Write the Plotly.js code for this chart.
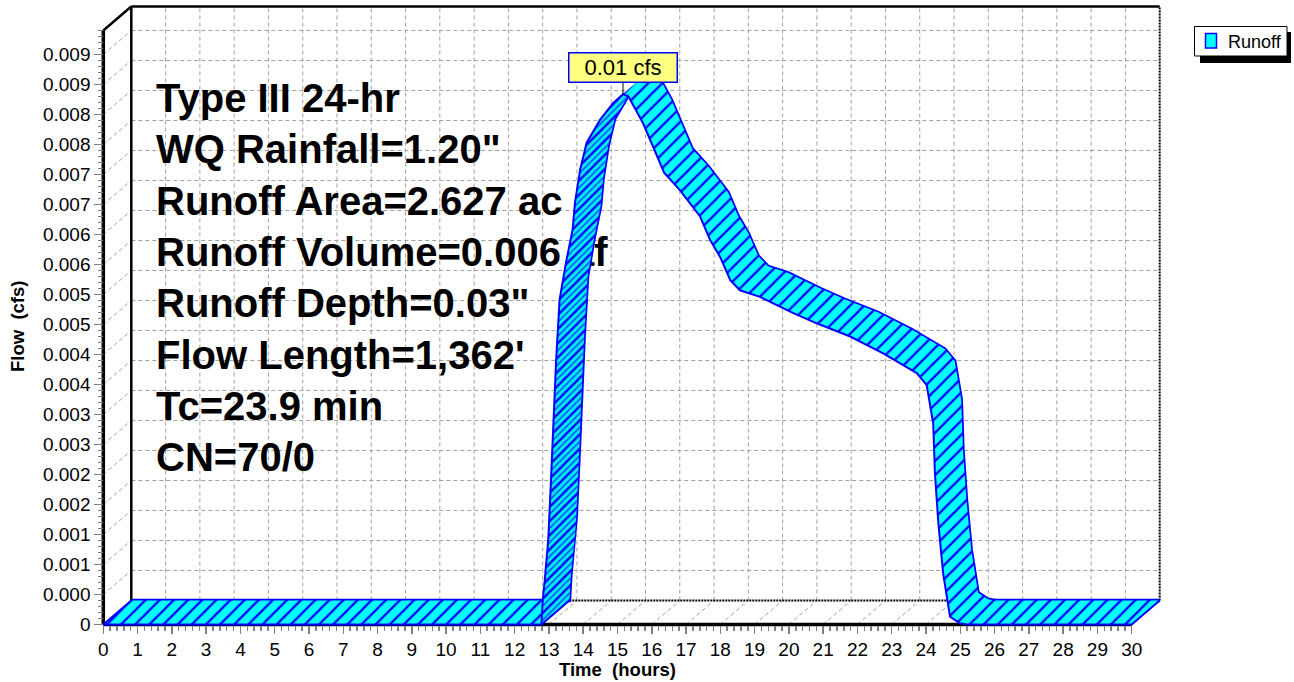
<!DOCTYPE html>
<html><head><meta charset="utf-8">
<script src="https://cdn.plot.ly/plotly-3.0.1.min.js"></script>
<style>html,body{margin:0;padding:0;background:#fff;} #chart{width:1294px;height:682px;}</style>
</head><body><div id="chart"></div>
<script>
// ---------------- data ----------------
const timeHours = [0, 12.78, 12.82, 12.87, 12.94, 12.98, 13.06, 13.13, 13.21, 13.31, 13.50, 13.69, 13.76, 13.91, 14.10, 14.49, 14.87, 15.16, 15.32, 15.75, 16.36, 16.82, 17.41, 17.70, 17.99, 18.29, 18.57, 19.16, 20.13, 20.81, 21.79, 22.75, 23.73, 24.02, 24.21, 24.26, 24.36, 24.50, 24.70, 24.99, 25.20, 30];
const runoffCfs = [0, 0, 0.00041, 0.00069, 0.00108, 0.00141, 0.00241, 0.00341, 0.00441, 0.00541, 0.00604, 0.00658, 0.00703, 0.00758, 0.00803, 0.00841, 0.00869, 0.00884, 0.00880, 0.00835, 0.00753, 0.00724, 0.00680, 0.00641, 0.00613, 0.00574, 0.00557, 0.00546, 0.00519, 0.00502, 0.00480, 0.00452, 0.00419, 0.00399, 0.00335, 0.00252, 0.00169, 0.00085, 0.00013, 0.00002, 0, 0];
const xTickVals = [0,1,2,3,4,5,6,7,8,9,10,11,12,13,14,15,16,17,18,19,20,21,22,23,24,25,26,27,28,29,30];
const yTickVals = [0,0.0005,0.001,0.0015,0.002,0.0025,0.003,0.0035,0.004,0.0045,0.005,0.0055,0.006,0.0065,0.007,0.0075,0.008,0.0085,0.009,0.0095];
const yTickText = ["0","0.000","0.001","0.001","0.002","0.002","0.003","0.003","0.004","0.004","0.005","0.005","0.006","0.006","0.007","0.007","0.008","0.008","0.009","0.009"];
const infoLines = ['Type III 24-hr','WQ Rainfall=1.20"','Runoff Area=2.627 ac','Runoff Volume=0.006 af','Runoff Depth=0.03"',"Flow Length=1,362'",'Tc=23.9 min','CN=70/0'];
const seriesName = 'Runoff';
const xTitle = 'Time\u00a0\u00a0(hours)';
const yTitle = 'Flow\u00a0\u00a0(cfs)';

// ---------------- geometry / style ----------------
const W = 1294, H = 682;
const PL = 95, PR = 1175, PT = 0, PB = 632;          // plot area in px
const X0PX = 103.3, PXHR = 34.28, Y0PX = 624.5, PXCFS = 60000;
const DEPTH_X = 28, DEPTH_Y = 24;                    // 3-D depth offset in px
const xRange = [(PL - X0PX) / PXHR, (PR - X0PX) / PXHR];
const yRange = [(Y0PX - PB) / PXCFS, (Y0PX - PT) / PXCFS];
const dx = DEPTH_X / PXHR, dy = DEPTH_Y / PXCFS;
const xEnd = xTickVals[xTickVals.length - 1];
const yTop = 0.0099;
const FONT = 'Liberation Sans, Arial, sans-serif';
const px2paperX = p => (p - PL) / (PR - PL);
const px2paperY = p => (PB - p) / (PB - PT);
const px2dataX = p => (p - X0PX) / PXHR;
const px2dataY = p => (Y0PX - p) / PXCFS;

const GRID = '#a0a0a0';
const traces = [];
function segTrace(segs, color, width, dash) {
  const x = [], y = [];
  segs.forEach(s => { x.push(s[0], s[2], null); y.push(s[1], s[3], null); });
  return {type: 'scatter', mode: 'lines', x, y, line: {color, width, dash: dash || 'solid'},
          hoverinfo: 'skip', showlegend: false, connectgaps: false};
}
// grid on back plane
const gridSegs = [];
xTickVals.forEach(v => { if (v > 0 && v < xEnd) {
  gridSegs.push([v + dx, dy, v + dx, yTop + dy]);
  gridSegs.push([v, 0, v + dx, dy]);
}});
yTickVals.forEach(v => { if (v > 0) {
  gridSegs.push([dx, v + dy, xEnd + dx, v + dy]);
  gridSegs.push([0, v, dx, v + dy]);
}});
traces.push(segTrace(gridSegs, GRID, 1, '4px,3px'));
// frame
traces.push(segTrace([[dx, dy, xEnd + dx, dy], [xEnd + dx, dy, xEnd + dx, yTop + dy]], '#000', 2, '2px,1px'));
traces.push(segTrace([[dx, dy, dx, yTop + dy], [0, yTop, dx, yTop + dy], [dx, yTop + dy, xEnd + dx, yTop + dy]], '#000', 2.5));
traces.push(segTrace([[0, 0, 0, yTop], [0, 0, xEnd, 0]], '#000', 3.5));

// info text (drawn beneath the hydrograph, as in the reference)
traces.push({type: 'scatter', mode: 'text', x: infoLines.map(() => px2dataX(156)),
  y: infoLines.map((s, i) => px2dataY(102 + i * 51.3)), text: infoLines, textposition: 'middle right',
  textfont: {family: FONT, size: 40, weight: 700, color: '#000'}, marker: {size: 0},
  hoverinfo: 'skip', showlegend: false, cliponaxis: false});

// hydrograph ribbon
const backX = timeHours.map(t => t + dx), backY = runoffCfs.map(q => q + dy);
traces.push({type: 'scatter', mode: 'lines', x: backX, y: backY, line: {color: '#0000ff', width: 3.5},
  hoverinfo: 'skip', showlegend: false});
const qx = [], qy = [], rx = [], ry = [];
for (let i = 0; i < timeHours.length - 1; i++) {
  let pts = [[timeHours[i], runoffCfs[i]], [timeHours[i + 1], runoffCfs[i + 1]],
             [timeHours[i + 1] + dx, runoffCfs[i + 1] + dy], [timeHours[i] + dx, runoffCfs[i] + dy]];
  const sx = (timeHours[i + 1] - timeHours[i]) * PXHR, sy = (runoffCfs[i + 1] - runoffCfs[i]) * PXCFS;
  const steep = sx * DEPTH_Y - sy * DEPTH_X < 0;
  if (steep) pts = pts.reverse();
  pts.push(pts[0]);
  pts.forEach(p => { qx.push(p[0]); qy.push(p[1]); if (steep) { rx.push(p[0]); ry.push(p[1]); } });
  qx.push(null); qy.push(null);
  if (steep) { rx.push(null); ry.push(null); }
}
traces.push({type: 'scatter', mode: 'lines', x: qx, y: qy, fill: 'toself', connectgaps: false,
  fillcolor: '#00ffff', line: {width: 0, color: 'rgba(0,0,0,0)'},
  fillpattern: {shape: '/', size: 10, solidity: 0.22, bgcolor: '#00ffff', fgcolor: '#0000ff', fgopacity: 1},
  hoverinfo: 'skip', showlegend: false, name: seriesName});
// rising limb: overlapping steps look darker in the reference
traces.push({type: 'scatter', mode: 'lines', x: rx, y: ry, fill: 'toself', connectgaps: false,
  fillcolor: 'rgba(0,110,160,0.16)', line: {width: 0, color: 'rgba(0,0,0,0)'},
  fillpattern: {shape: '/', size: 5, solidity: 0.28, bgcolor: 'rgba(0,110,160,0.14)', fgcolor: '#0000ff', fgopacity: 0.75},
  hoverinfo: 'skip', showlegend: false});
// front outline with end edges
const fx = [dx].concat(timeHours, [xEnd + dx]);
const fy = [dy].concat(runoffCfs, [dy]);
traces.push({type: 'scatter', mode: 'lines', x: fx, y: fy, line: {color: '#0000ff', width: 2},
  hoverinfo: 'skip', showlegend: false});
const edgeSegs = [];
for (let i = 0; i < timeHours.length - 1; i++) {
  if (runoffCfs[i] === 0 && runoffCfs[i + 1] > 0) edgeSegs.push([timeHours[i], 0, timeHours[i] + dx, dy]);
}
traces.push(segTrace(edgeSegs, '#0000ff', 2));

// minor ticks
const xMinor = [], yMinor = [];
for (let i = 0; i <= xEnd * 5; i++) if (i % 5) xMinor.push(i / 5);
for (let i = 0; i <= 99; i++) if (i % 5) yMinor.push(i / 10000);

const peakIdx = runoffCfs.indexOf(Math.max(...runoffCfs));
const annotations = [];
annotations.push({xref: 'x', yref: 'y', x: timeHours[peakIdx], y: runoffCfs[peakIdx],
  text: runoffCfs[peakIdx].toFixed(2) + ' cfs', showarrow: true, arrowhead: 0, arrowwidth: 1, arrowcolor: '#000',
  ax: 0, ay: -27, standoff: 0, bgcolor: '#ffff80', bordercolor: '#0000ff', borderwidth: 1.5, borderpad: 1,
  width: 105, height: 26, font: {family: FONT, size: 22, color: '#000'}});
annotations.push({xref: 'paper', yref: 'paper', x: px2paperX(617), y: px2paperY(669), showarrow: false,
  text: xTitle, xanchor: 'center', yanchor: 'middle', font: {family: FONT, size: 18.5, weight: 700, color: '#000'}});
annotations.push({xref: 'paper', yref: 'paper', x: px2paperX(17), y: px2paperY(327), showarrow: false, textangle: -90,
  text: yTitle, xanchor: 'center', yanchor: 'middle', font: {family: FONT, size: 18.5, weight: 700, color: '#000'}});
annotations.push({xref: 'paper', yref: 'paper', x: px2paperX(1226), y: px2paperY(41.5), showarrow: false,
  text: seriesName, xanchor: 'left', yanchor: 'middle', font: {family: FONT, size: 18, color: '#000'}});

const shapes = [
  {type: 'rect', xref: 'paper', yref: 'paper', x0: px2paperX(1200), x1: px2paperX(1291), y0: px2paperY(32), y1: px2paperY(63),
   fillcolor: '#000', line: {width: 0}},
  {type: 'rect', xref: 'paper', yref: 'paper', x0: px2paperX(1194.5), x1: px2paperX(1287), y0: px2paperY(26.5), y1: px2paperY(56),
   fillcolor: '#fff', line: {color: '#000', width: 1}},
  {type: 'rect', xref: 'paper', yref: 'paper', x0: px2paperX(1205.5), x1: px2paperX(1216.5), y0: px2paperY(33.5), y1: px2paperY(48),
   fillcolor: '#00ffff', line: {color: '#0000ff', width: 1.5}}
];

const layout = {
  width: W, height: H, margin: {l: PL, r: W - PR, t: PT, b: H - PB, pad: 0},
  paper_bgcolor: '#fff', plot_bgcolor: 'rgba(0,0,0,0)', showlegend: false,
  font: {family: FONT, color: '#000'},
  xaxis: {range: xRange, anchor: 'free', position: px2paperY(Y0PX), tickmode: 'array', tickvals: xTickVals,
    ticks: 'outside', ticklen: 8, tickwidth: 1.5, tickcolor: '#808080', showgrid: false, zeroline: false, showline: false,
    tickfont: {family: FONT, size: 19, color: '#000'}, fixedrange: true,
    minor: {tickmode: 'array', tickvals: xMinor, ticks: 'outside', ticklen: 5, tickwidth: 1.5, tickcolor: '#808080', showgrid: false}},
  yaxis: {range: yRange, anchor: 'free', position: px2paperX(X0PX), tickmode: 'array', tickvals: yTickVals, ticktext: yTickText,
    ticks: 'outside', ticklen: 9, tickwidth: 1.5, tickcolor: '#808080', showgrid: false, zeroline: false, showline: false,
    tickfont: {family: FONT, size: 19, color: '#000'}, fixedrange: true,
    minor: {tickmode: 'array', tickvals: yMinor, ticks: 'outside', ticklen: 5, tickwidth: 1.5, tickcolor: '#808080', showgrid: false}},
  annotations, shapes
};
Plotly.newPlot('chart', traces, layout, {staticPlot: true, displayModeBar: false});
</script></body></html>
